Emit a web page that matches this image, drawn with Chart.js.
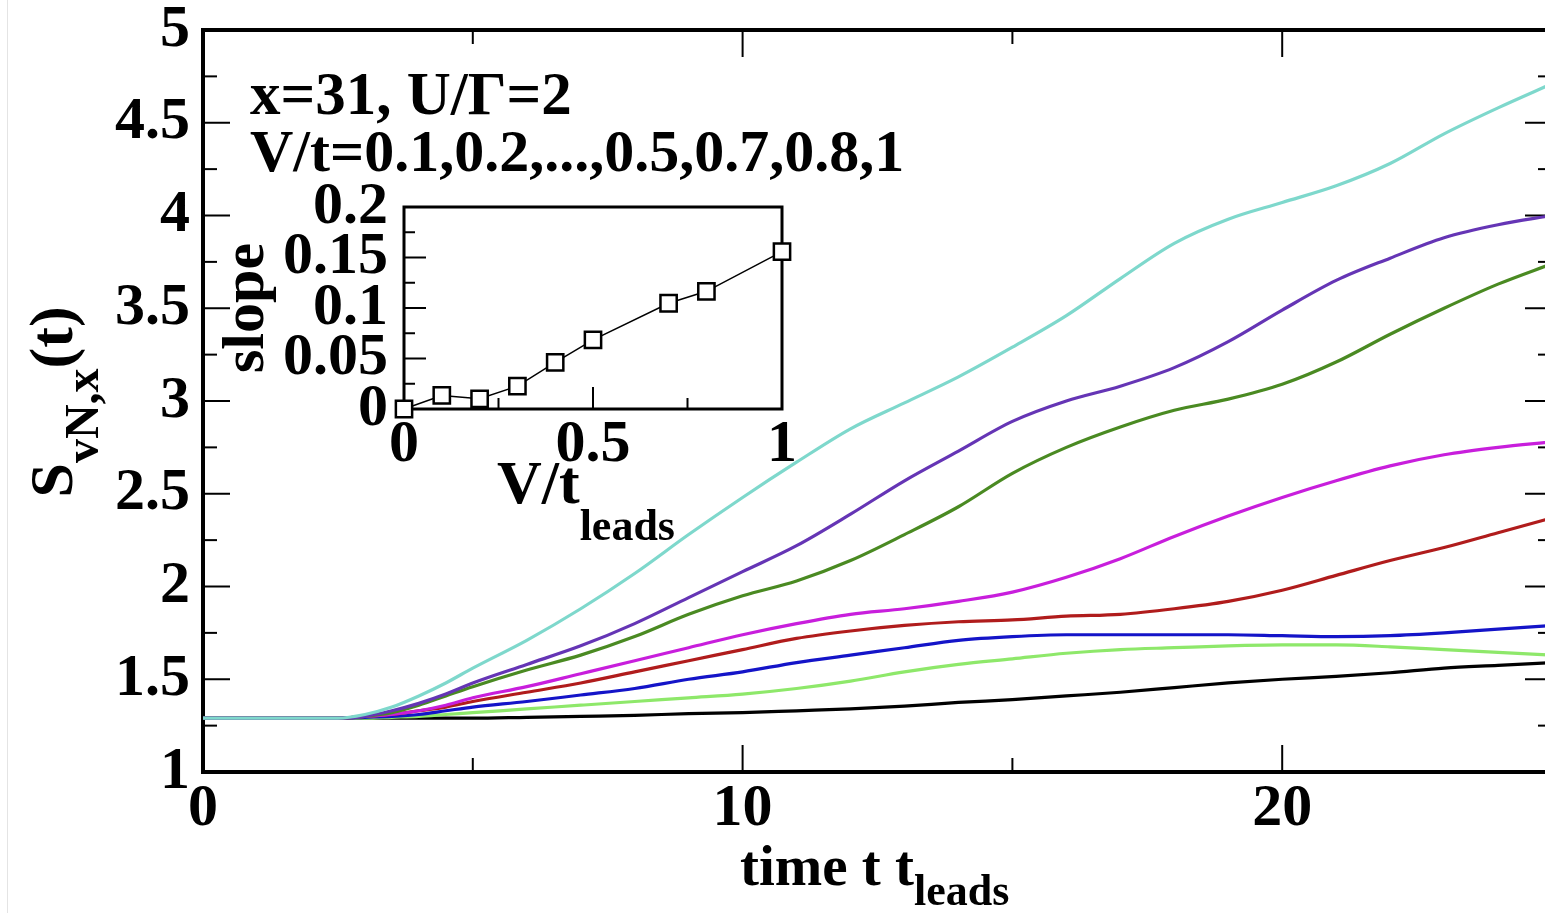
<!DOCTYPE html>
<html lang="en">
<head>
<meta charset="UTF-8" />
<title>S_vN,x(t) vs time</title>
<script src="https://cdn.jsdelivr.net/npm/chart.js@4.4.1/dist/chart.umd.min.js"></script>
<style>
  html, body { margin: 0; padding: 0; background: #fff; overflow: hidden; }
  #wrap { position: relative; width: 1545px; height: 913px; overflow: hidden; background: #fff; }
  #main { position: absolute; left: 0; top: 0; }
  #inset { position: absolute; left: 200px; top: 160px; }
  #edge { position: absolute; left: 7px; top: 0; width: 1px; height: 913px; background: #e4e4e4; }
</style>
</head>
<body>
<div id="wrap">
  <div id="edge"></div>
  <canvas id="main" width="1560" height="913"></canvas>
  <canvas id="inset" width="620" height="400"></canvas>
</div>
<script>
// time grid (t * t_leads) shared by all curves
const tGrid = [0, 1, 2, 2.5, 3, 3.5, 4, 4.5, 5, 6, 7, 8, 9, 10, 11, 12, 13, 14, 15, 16, 17, 18, 19, 20, 21, 22, 23, 24, 25];

// S_vN,x(t), one list per bias V/t
const sV01 = [1.29, 1.29, 1.29, 1.29, 1.29, 1.29, 1.29, 1.29, 1.29, 1.295, 1.30, 1.305, 1.315, 1.32, 1.33, 1.34, 1.355, 1.375, 1.39, 1.41, 1.43, 1.455, 1.48, 1.50, 1.515, 1.535, 1.56, 1.575, 1.59];
const sV02 = [1.29, 1.29, 1.29, 1.29, 1.29, 1.295, 1.30, 1.31, 1.32, 1.34, 1.36, 1.38, 1.40, 1.42, 1.45, 1.49, 1.54, 1.58, 1.61, 1.64, 1.66, 1.67, 1.68, 1.685, 1.685, 1.675, 1.66, 1.645, 1.63];
const sV03 = [1.29, 1.29, 1.29, 1.29, 1.295, 1.30, 1.31, 1.33, 1.35, 1.38, 1.415, 1.45, 1.50, 1.54, 1.59, 1.63, 1.67, 1.71, 1.73, 1.74, 1.74, 1.74, 1.74, 1.735, 1.73, 1.735, 1.75, 1.77, 1.79];
const sV04 = [1.29, 1.29, 1.29, 1.29, 1.30, 1.31, 1.33, 1.35, 1.38, 1.43, 1.48, 1.54, 1.60, 1.66, 1.72, 1.76, 1.79, 1.81, 1.82, 1.84, 1.85, 1.88, 1.92, 1.98, 2.06, 2.14, 2.21, 2.29, 2.37];
const sV05 = [1.29, 1.29, 1.29, 1.29, 1.30, 1.31, 1.33, 1.36, 1.40, 1.46, 1.53, 1.60, 1.67, 1.74, 1.80, 1.85, 1.88, 1.92, 1.97, 2.05, 2.15, 2.27, 2.38, 2.48, 2.57, 2.65, 2.71, 2.75, 2.78];
const sV07 = [1.29, 1.29, 1.29, 1.29, 1.30, 1.32, 1.36, 1.41, 1.46, 1.55, 1.63, 1.73, 1.85, 1.95, 2.03, 2.14, 2.28, 2.43, 2.61, 2.75, 2.86, 2.95, 3.01, 3.09, 3.21, 3.36, 3.50, 3.63, 3.74];
const sV08 = [1.29, 1.29, 1.29, 1.29, 1.30, 1.33, 1.37, 1.42, 1.48, 1.58, 1.68, 1.80, 1.94, 2.08, 2.22, 2.39, 2.57, 2.73, 2.89, 3.00, 3.08, 3.18, 3.32, 3.49, 3.65, 3.77, 3.88, 3.95, 4.00];
const sV10 = [1.29, 1.29, 1.29, 1.29, 1.31, 1.35, 1.41, 1.48, 1.56, 1.71, 1.88, 2.07, 2.28, 2.48, 2.67, 2.85, 2.99, 3.13, 3.29, 3.46, 3.66, 3.85, 3.98, 4.07, 4.16, 4.28, 4.44, 4.58, 4.71];

const biasLabels = ['0.1', '0.2', '0.3', '0.4', '0.5', '0.7', '0.8', '1'];
const seriesList = [sV01, sV02, sV03, sV04, sV05, sV07, sV08, sV10];
const seriesColors = ['#000000', '#8ee86a', '#1414c8', '#b01c1c', '#c81edc', '#4a8a22', '#6535b5', '#7ed8cc'];

// inset: slope vs V/t_leads
const insetV = [0, 0.1, 0.2, 0.3, 0.4, 0.5, 0.7, 0.8, 1];
const insetSlope = [0, 0.0134, 0.0101, 0.0226, 0.0462, 0.0684, 0.1047, 0.1165, 0.1558];

// tick values
const xMajor = [0, 10, 20];
const xMinor = [5, 15, 25];
const yMajor = [1, 1.5, 2, 2.5, 3, 3.5, 4, 4.5, 5];
const yMinor = [1.25, 1.75, 2.25, 2.75, 3.25, 3.75, 4.25, 4.75];
const insetXMajor = [0, 0.5, 1];
const insetXMinor = [0.25, 0.75];
const insetYMajor = [0, 0.05, 0.1, 0.15, 0.2];
const insetYMinor = [0.025, 0.075, 0.125, 0.175];

const SERIF = '"Liberation Serif", "Times New Roman", serif';
// lineHeight only matters for vertical placement; keep it small on y so labels don't push the plot down
const xTickFont = { family: SERIF, weight: 'bold', size: 60, lineHeight: 1 };
const yTickFont = { family: SERIF, weight: 'bold', size: 60, lineHeight: 0.4 };

// box around the plot area with inward ticks (xmgrace style)
const framePlugin = {
  id: 'frame',
  beforeDatasetsDraw(chart, args, o) {
    const { ctx, chartArea: a, scales: { x, y } } = chart;
    ctx.save();
    ctx.strokeStyle = '#000';
    ctx.lineWidth = o.tickWidth;
    const tick = (px, py, dx, dy) => {
      ctx.beginPath();
      ctx.moveTo(px, py);
      ctx.lineTo(px + dx, py + dy);
      ctx.stroke();
    };
    const xs = (vals, len) => vals.forEach((v) => {
      const p = x.getPixelForValue(v);
      tick(p, a.bottom, 0, -len);
      if (o.mirror) tick(p, a.top, 0, len);
    });
    const ys = (vals, len) => vals.forEach((v) => {
      const p = y.getPixelForValue(v);
      tick(a.left, p, len, 0);
      if (o.mirror) tick(a.right, p, -len, 0);
    });
    xs(o.xMajor, o.majorLen);
    xs(o.xMinor, o.minorLen);
    ys(o.yMajor, o.majorLen);
    ys(o.yMinor, o.minorLen);
    ctx.lineWidth = o.lineWidth;
    ctx.strokeRect(a.left, a.top, a.right - a.left, a.bottom - a.top);
    ctx.restore();
  },
};

// text run with sub-scripts: parts = [text, size, dy]
function drawRun(ctx, x, y, parts, align) {
  let w = 0;
  parts.forEach(([t, s]) => {
    ctx.font = `bold ${s}px ${SERIF}`;
    w += ctx.measureText(t).width;
  });
  let cx = align === 'center' ? x - w / 2 : x;
  parts.forEach(([t, s, dy]) => {
    ctx.font = `bold ${s}px ${SERIF}`;
    ctx.fillText(t, cx, y + dy);
    cx += ctx.measureText(t).width;
  });
}

const textPlugin = {
  id: 'texts',
  afterDraw(chart, args, o) {
    const { ctx } = chart;
    ctx.save();
    ctx.fillStyle = '#000';
    ctx.textBaseline = 'alphabetic';
    ctx.textAlign = 'left';
    o.items.forEach((it) => {
      if (it.rotate) {
        ctx.save();
        ctx.translate(it.x, it.y);
        ctx.rotate(-Math.PI / 2);
        drawRun(ctx, 0, 0, it.parts, 'center');
        ctx.restore();
      } else {
        drawRun(ctx, it.x, it.y, it.parts, it.align || 'left');
      }
    });
    ctx.restore();
  },
};

const fixedTicks = (vals) => (s) => { s.ticks = vals.map((v) => ({ value: v })); };
const plainLabel = (v) => String(Math.round(v * 1000) / 1000);

new Chart(document.getElementById('main'), {
  type: 'line',
  data: {
    datasets: seriesList.map((vals, i) => ({
      label: 'V/t=' + biasLabels[i],
      data: tGrid.map((t, k) => ({ x: t, y: vals[k] })),
      borderColor: seriesColors[i],
      backgroundColor: seriesColors[i],
      borderWidth: 3.2,
      pointRadius: 0,
      cubicInterpolationMode: 'monotone',
      order: seriesList.length - i,
    })),
  },
  options: {
    responsive: false,
    animation: false,
    layout: { padding: { top: 30, right: 8, left: 0, bottom: 0 } },
    scales: {
      x: {
        type: 'linear',
        min: 0,
        max: 25,
        afterBuildTicks: fixedTicks(xMajor),
        afterFit: (s) => { s.height = 141; },
        grid: { display: false, drawTicks: false },
        border: { display: false },
        ticks: { font: xTickFont, color: '#000', padding: 7, maxRotation: 0, autoSkip: false, callback: plainLabel },
      },
      y: {
        min: 1,
        max: 5,
        afterBuildTicks: fixedTicks(yMajor),
        afterFit: (s) => { s.width = 203; },
        grid: { display: false, drawTicks: false },
        border: { display: false },
        ticks: { font: yTickFont, color: '#000', padding: 13, autoSkip: false, callback: plainLabel },
      },
    },
    plugins: {
      legend: { display: false },
      tooltip: { enabled: false },
      frame: {
        lineWidth: 4, tickWidth: 2, majorLen: 27, minorLen: 14, mirror: true,
        xMajor, xMinor, yMajor, yMinor,
      },
      texts: {
        items: [
          { x: 250, y: 114, parts: [['x=31, U/\u0393=2', 61, 0]] },
          { x: 250, y: 171, parts: [['V/t=0.1,0.2,...,0.5,0.7,0.8,1', 60, 0]] },
          { x: 740, y: 885, parts: [['time t t', 57, 0], ['leads', 44, 20]] },
          { x: 72, y: 402, rotate: true, parts: [['S', 62, 0], ['vN,x', 48, 26], ['(t)', 62, 0]] },
          { x: 263, y: 308, rotate: true, parts: [['slope', 60, 0]] },
          { x: 497, y: 503, parts: [['V/t', 62, 0], ['leads', 44, 37]] },
        ],
      },
    },
  },
  plugins: [framePlugin, textPlugin],
});

new Chart(document.getElementById('inset'), {
  type: 'line',
  data: {
    datasets: [{
      label: 'slope',
      data: insetV.map((v, k) => ({ x: v, y: insetSlope[k] })),
      borderColor: '#000',
      borderWidth: 1.5,
      pointStyle: 'rect',
      pointRadius: 11.5,
      pointBorderWidth: 2.5,
      pointBorderColor: '#000',
      pointBackgroundColor: '#fff',
      clip: false,
    }],
  },
  options: {
    responsive: false,
    animation: false,
    layout: { padding: { top: 47, right: 38, left: 0, bottom: 0 } },
    scales: {
      x: {
        type: 'linear',
        min: 0,
        max: 1,
        afterBuildTicks: fixedTicks(insetXMajor),
        afterFit: (s) => { s.height = 151; },
        grid: { display: false, drawTicks: false },
        border: { display: false },
        ticks: { font: xTickFont, color: '#000', padding: 6, maxRotation: 0, autoSkip: false, callback: plainLabel },
      },
      y: {
        min: 0,
        max: 0.2,
        afterBuildTicks: fixedTicks(insetYMajor),
        afterFit: (s) => { s.width = 204; },
        grid: { display: false, drawTicks: false },
        border: { display: false },
        ticks: { font: yTickFont, color: '#000', padding: 16, autoSkip: false, callback: plainLabel },
      },
    },
    plugins: {
      legend: { display: false },
      tooltip: { enabled: false },
      frame: {
        lineWidth: 3, tickWidth: 2, majorLen: 22, minorLen: 11, mirror: false,
        xMajor: insetXMajor, xMinor: insetXMinor, yMajor: insetYMajor, yMinor: insetYMinor,
      },
    },
  },
  plugins: [framePlugin],
});
</script>
</body>
</html>
